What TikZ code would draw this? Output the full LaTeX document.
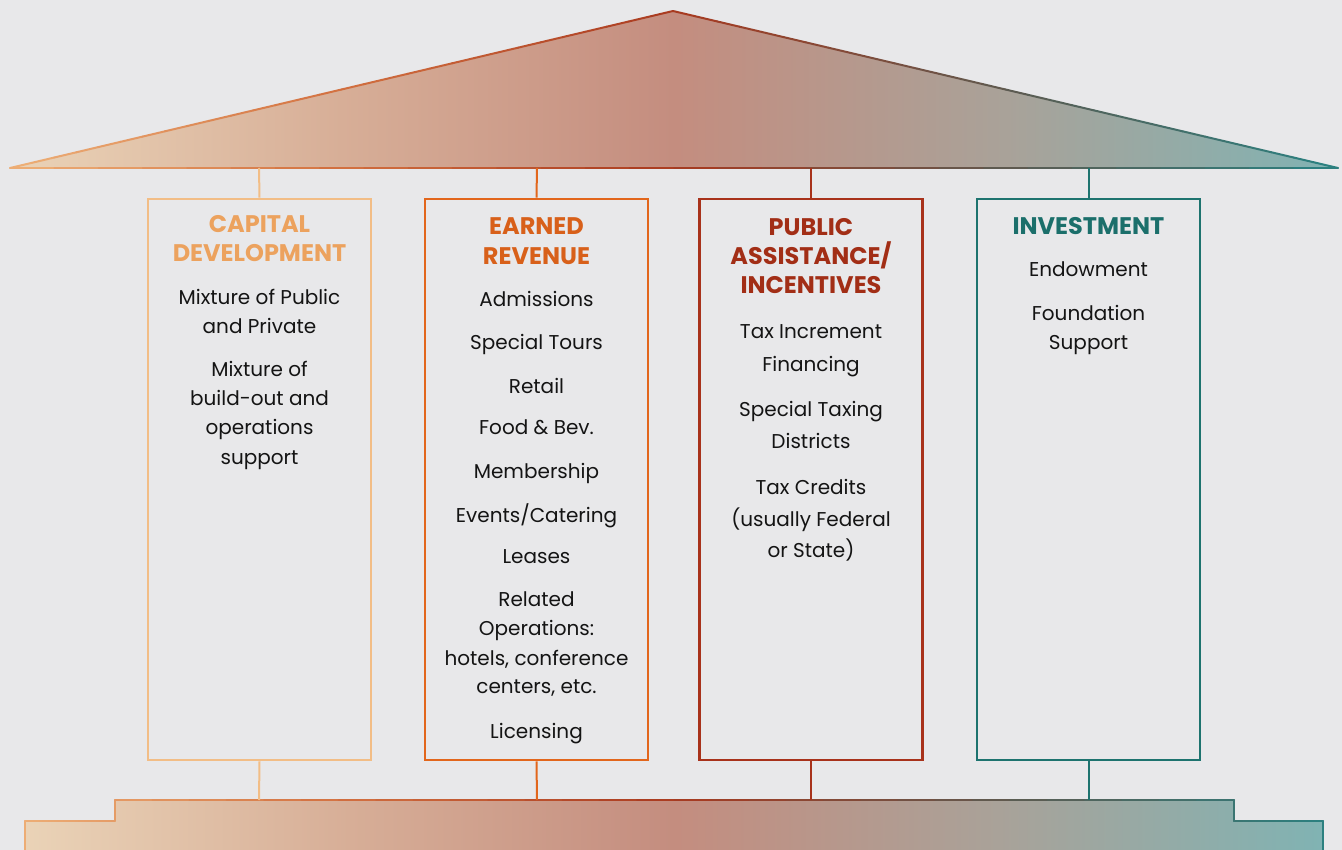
\documentclass[tikz,border=0pt]{standalone}
\usepackage{fontspec}
\setmainfont{Poppins}
\definecolor{bg}{HTML}{E8E8EA}
\definecolor{f0}{HTML}{EAD3B7}
\definecolor{f1}{HTML}{D7AE97}
\definecolor{f2}{HTML}{C48D7F}
\definecolor{f3}{HTML}{A9A299}
\definecolor{f4}{HTML}{80B3B3}
\definecolor{s0}{HTML}{EEB078}
\definecolor{s1}{HTML}{D27040}
\definecolor{s2}{HTML}{A93A20}
\definecolor{s3}{HTML}{5E5A50}
\definecolor{s4}{HTML}{2A8282}
\definecolor{b1}{HTML}{F2BD86}
\definecolor{b2}{HTML}{E2661C}
\definecolor{b3}{HTML}{A8321B}
\definecolor{b4}{HTML}{1D736F}
\definecolor{t1}{HTML}{ECA25E}
\definecolor{t2}{HTML}{D8601A}
\definecolor{t3}{HTML}{A22E16}
\definecolor{t4}{HTML}{1B6F6B}
\definecolor{txt}{HTML}{141414}
\pgfdeclarehorizontalshading{grad}{100bp}{color(0bp)=(f0); color(25bp)=(f0); color(37.5bp)=(f1); color(50bp)=(f2); color(62.5bp)=(f3); color(75bp)=(f4); color(100bp)=(f4)}
\newcommand\setsc[1]{%
  \pgfmathsetmacro\sct{max(0,min(3.999,(#1-10)/1328*4))}%
  \pgfmathtruncatemacro\scs{floor(\sct)}%
  \pgfmathsetmacro\scl{100*(1-(\sct-\scs))}%
  \ifcase\scs\relax \colorlet{sc}{s0!\scl!s1}\or \colorlet{sc}{s1!\scl!s2}\or \colorlet{sc}{s2!\scl!s3}\else \colorlet{sc}{s3!\scl!s4}\fi}
\newcommand\gline[5]{%
  \foreach \k in {1,...,30}{%
    \pgfmathsetmacro\xa{#1+(#3-#1)/30*(\k-1)}%
    \pgfmathsetmacro\ya{#2+(#4-#2)/30*(\k-1)}%
    \pgfmathsetmacro\xb{#1+(#3-#1)/30*\k}%
    \pgfmathsetmacro\yb{#2+(#4-#2)/30*\k}%
    \pgfmathsetmacro\xm{(\xa+\xb)/2}%
    \setsc{\xm}%
    \draw[draw=sc, line width=#5, line cap=round] (\xa,\ya) -- (\xb,\yb);
  }}
\begin{document}
\begin{tikzpicture}[x=1pt,y=-1pt,
  colbox/.style={draw, line width=2.6pt, minimum width=223pt, minimum height=561pt, inner sep=0pt},
  conn/.style={line width=2pt},
  body/.style={font=\fontsize{20}{24}\selectfont, anchor=base, text=txt, inner sep=0pt},
  ttl/.style={font=\bfseries\fontsize{24}{28}\selectfont, anchor=base, inner sep=0pt}]
\fill[bg] (0,0) rectangle (1342,850);
\useasboundingbox (0,0) rectangle (1342,850);
% roof
\shade[shading=grad] (10,168) -- (673,11) -- (1338,168) -- cycle;
\gline{10}{168}{673}{11}{2pt}
\gline{673}{11}{1338}{168}{2pt}
\gline{10}{168}{1338}{168}{1.6pt}
% base
\shade[shading=grad] (25,851) -- (25,821) -- (115,821) -- (115,800) -- (1234,800) -- (1234,821) -- (1323,821) -- (1323,851) -- cycle;
\gline{25}{851}{25}{821}{2pt}
\gline{25}{821}{115}{821}{2pt}
\gline{115}{821}{115}{800}{2pt}
\gline{115}{800}{1234}{800}{2pt}
\gline{1234}{800}{1234}{821}{2pt}
\gline{1234}{821}{1323}{821}{2pt}
\gline{1323}{821}{1323}{851}{2pt}
% anchor points on roof and base
\coordinate (r1) at (259,168); \coordinate (r2) at (537,168);
\coordinate (r3) at (811,168); \coordinate (r4) at (1088.5,168);
\coordinate (g1) at (259,800); \coordinate (g2) at (537,800);
\coordinate (g3) at (811,800); \coordinate (g4) at (1088.5,800);
% columns
\node[colbox, draw=b1] (box1) at (259.5,479.5) {};
\node[colbox, draw=b2] (box2) at (536.5,479.5) {};
\node[colbox, draw=b3] (box3) at (811,479.5) {};
\node[colbox, draw=b4] (box4) at (1088.5,479.5) {};
\draw[conn, b1] (r1) -- (box1.north);
\draw[conn, b2] (r2) -- (box2.north);
\draw[conn, b3] (r3) -- (box3.north);
\draw[conn, b4] (r4) -- (box4.north);
\draw[conn, b1] (box1.south) -- (g1);
\draw[conn, b2] (box2.south) -- (g2);
\draw[conn, b3] (box3.south) -- (g3);
\draw[conn, b4] (box4.south) -- (g4);
% column 1
\node[ttl, text=t1] (a1) at (259.5,233) {CAPITAL};
\node[ttl, text=t1] (a2) at (259.5,262) {DEVELOPMENT};
\node[body] (a3) at (259.5,305) {Mixture of Public};
\node[body] (a4) at (259.5,334) {and Private};
\node[body] (a5) at (259.5,377) {Mixture of};
\node[body] (a6) at (259.5,406) {build-out and};
\node[body] (a7) at (259.5,435) {operations};
\node[body] (a8) at (259.5,464) {support};
% column 2
\node[ttl, text=t2] (e1) at (536.5,235) {EARNED};
\node[ttl, text=t2] (e2) at (536.5,265) {REVENUE};
\node[body] (e3) at (536.5,307) {Admissions};
\node[body] (e4) at (536.5,350) {Special Tours};
\node[body] (e5) at (536.5,393) {Retail};
\node[body] (e6) at (536.5,435) {Food \& Bev.};
\node[body] (e7) at (536.5,478) {Membership};
\node[body] (e8) at (536.5,522) {Events/Catering};
\node[body] (e9) at (536.5,563) {Leases};
\node[body] (e10) at (536.5,606) {Related};
\node[body] (e11) at (536.5,635) {Operations:};
\node[body] (e12) at (536.5,665) {hotels, conference};
\node[body] (e13) at (536.5,693) {centers, etc.};
\node[body] (e14) at (536.5,738) {Licensing};
% column 3
\node[ttl, text=t3] (p1) at (811,236) {PUBLIC};
\node[ttl, text=t3] (p2) at (811,265) {ASSISTANCE/};
\node[ttl, text=t3] (p3) at (811,294) {INCENTIVES};
\node[body] (p4) at (811,339) {Tax Increment};
\node[body] (p5) at (811,371) {Financing};
\node[body] (p6) at (811,417) {Special Taxing};
\node[body] (p7) at (811,448) {Districts};
\node[body] (p8) at (811,494) {Tax Credits};
\node[body] (p9) at (811,526) {(usually Federal};
\node[body] (p10) at (811,557) {or State)};
% column 4
\node[ttl, text=t4] (i1) at (1088.5,235) {INVESTMENT};
\node[body] (i2) at (1088.5,277) {Endowment};
\node[body] (i3) at (1088.5,321) {Foundation};
\node[body] (i4) at (1088.5,350) {Support};
\end{tikzpicture}
\end{document}
